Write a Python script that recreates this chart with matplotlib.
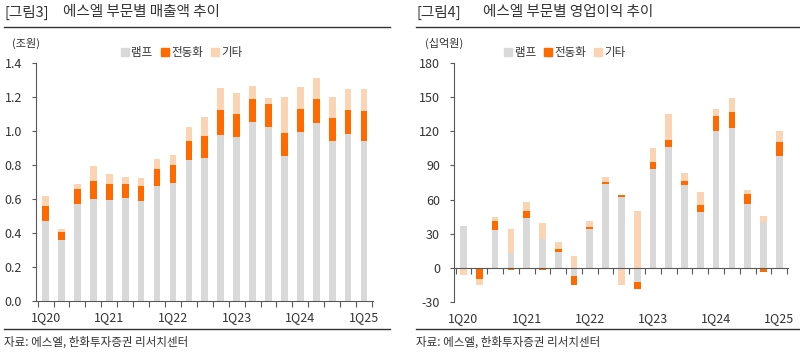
import numpy as np
import matplotlib
matplotlib.use('Agg')
import matplotlib.pyplot as plt
from matplotlib.lines import Line2D
from matplotlib.patches import Patch

plt.rcParams['font.family'] = ['Noto Sans CJK KR', 'DejaVu Sans']
plt.rcParams['axes.unicode_minus'] = False

# Quarters 1Q20 .. 1Q25
quarters = [f'{q}Q{y}' for y in range(20, 26) for q in range(1, 5)][:21]
tick_labels = ['1Q20', '1Q21', '1Q22', '1Q23', '1Q24', '1Q25']
series_names = ['램프', '전동화', '기타']

# Sales (조원)
sales_lamp = [0.47, 0.356, 0.568, 0.60, 0.597, 0.603, 0.591, 0.677, 0.697, 0.832, 0.842,
              0.975, 0.965, 1.051, 1.024, 0.854, 0.997, 1.048, 0.94, 0.983, 0.944]
sales_ev = [0.09, 0.049, 0.088, 0.103, 0.094, 0.084, 0.088, 0.10, 0.103, 0.112, 0.129,
            0.149, 0.133, 0.139, 0.133, 0.135, 0.131, 0.141, 0.137, 0.141, 0.174]
sales_other = [0.06, 0.02, 0.034, 0.094, 0.059, 0.043, 0.043, 0.061, 0.056, 0.082, 0.112,
               0.131, 0.126, 0.077, 0.037, 0.213, 0.129, 0.121, 0.125, 0.125, 0.127]

# Operating profit (십억원)
op_lamp = [37, 0, 33, 13, 44, 25, 14, -7, 34, 74, 62, -12, 87, 106, 73, 49, 120, 123, 56, 40, 98]
op_ev = [0, -10, 8, -2, 6, -2, 3, -8, 1.5, 1.2, 2, -7, 6, 6, 3.5, 6, 13, 14, 9, -4, 13]
op_other = [-6, -5, 3.5, 21, 8, 14, 6, 10, 6, 4.5, -15, 50, 12, 23, 7, 12, 7, 12, 3.5, 5.5, 9]

colors = ['#D9D9D9', '#FF6A00', '#FBD4B4']
text_c = '#333333'
axis_c = '#595959'


def stacked(ax, series):
    x = np.arange(len(quarters))
    pos = np.zeros(len(x))
    neg = np.zeros(len(x))
    for vals, c in zip(series, colors):
        v = np.array(vals, dtype=float)
        bottom = np.where(v >= 0, pos, neg)
        ax.bar(x, v, bottom=bottom, width=0.42, color=c, linewidth=0)
        pos = pos + np.where(v >= 0, v, 0)
        neg = neg + np.where(v < 0, v, 0)


def style(ax, ylim, yticks, yfmt):
    n = len(quarters)
    ax.set_xlim(-0.6, n - 0.45)
    ax.set_ylim(*ylim)
    ax.set_yticks(yticks)
    ax.set_yticklabels([yfmt(t) for t in yticks])
    for s in ['top', 'right']:
        ax.spines[s].set_visible(False)
    ax.spines['left'].set_color(axis_c)
    ax.spines['bottom'].set_color(axis_c)
    ax.spines['bottom'].set_position(('data', 0))
    ax.set_xticks(np.arange(n + 1) - 0.5)
    ax.set_xticklabels([])
    ax.tick_params(axis='x', length=4, color=axis_c, direction='out')
    ax.tick_params(axis='y', length=3, color=axis_c, labelsize=9, labelcolor=text_c, pad=7)
    sec = ax.secondary_xaxis(0)
    sec.set_xticks([quarters.index(t) for t in tick_labels])
    sec.set_xticklabels(tick_labels)
    sec.tick_params(length=0, pad=7, labelsize=9, labelcolor=text_c)
    sec.spines['bottom'].set_visible(False)


fig = plt.figure(figsize=(8, 3.53), dpi=100)

ax1 = fig.add_axes([0.045, 0.1473, 0.421, 0.6742])
stacked(ax1, [sales_lamp, sales_ev, sales_other])
style(ax1, (0, 1.4), np.arange(0, 1.41, 0.2), lambda t: f'{t:.1f}')

ax2 = fig.add_axes([0.5675, 0.1445, 0.4175, 0.677])
stacked(ax2, [op_lamp, op_ev, op_other])
style(ax2, (-30, 180), np.arange(-30, 181, 30), lambda t: f'{int(t)}')

# titles, rules, notes
for x0, x1, xt, num, title in [(0.005, 0.488, 0.079, '[그림3]', '에스엘 부문별 매출액 추이'),
                               (0.52, 1.0, 0.604, '[그림4]', '에스엘 부문별 영업이익 추이')]:
    fig.text(x0, 0.9646, num, fontsize=10.5, color=text_c, va='center')
    fig.text(xt, 0.9646, title, fontsize=10.5, color=text_c, va='center')
    fig.add_artist(Line2D([x0, x1], [0.9235, 0.9235], color='#333333', lw=1))
    fig.add_artist(Line2D([x0, x1], [0.068, 0.068], color='#333333', lw=1))
    fig.text(x0, 0.031, '자료: 에스엘, 한화투자증권 리서치센터', fontsize=8.3,
             color=text_c, va='center')

fig.text(0.015, 0.876, '(조원)', fontsize=8, color=text_c, va='center')
fig.text(0.531, 0.876, '(십억원)', fontsize=8, color=text_c, va='center')

handles = [Patch(color=c) for c in colors]
for xl in [0.144, 0.623]:
    fig.legend(handles, series_names, loc='center left', bbox_to_anchor=(xl, 0.851),
               ncol=3, frameon=False, fontsize=8.3, handlelength=0.7, handleheight=0.7,
               handletextpad=0.2, columnspacing=0.7, borderpad=0, labelcolor=text_c)

fig.savefig('out.png', dpi=100)
